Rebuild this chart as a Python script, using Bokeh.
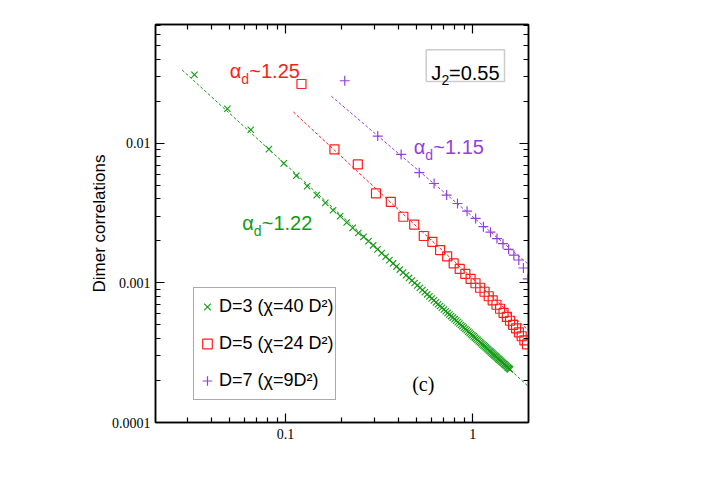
import math
from bokeh.plotting import figure
from bokeh.models import (Range1d, FixedTicker, CustomJSTickFormatter, LogAxis,
                          Legend, LegendItem, Label, BoxAnnotation)
from bokeh.embed import file_html
from bokeh.resources import INLINE

# ---------------- data ----------------
green_r = [2, 3, 4, 5, 6, 7, 8, 9, 10, 11, 12, 13, 14, 15, 16, 17, 18, 19, 20, 21,
           22, 23, 24, 25, 26, 27, 28, 29, 30, 31, 32, 33, 34, 35, 36, 37, 38, 39, 40, 41,
           42, 43, 44, 45, 46, 47, 48, 49, 50, 51, 52, 53, 54, 55, 56, 57, 58, 59, 60, 61,
           62, 63, 64, 65, 66, 67, 68, 69, 70, 71, 72, 73, 74, 75, 76, 77, 78, 79, 80, 81,
           82, 83, 84, 85, 86, 87, 88, 89, 90, 91, 92, 93, 94, 95, 96, 97]
green_xi = 61.35
green_y = [0.03105, 0.01771, 0.01252, 0.0091, 0.00719, 0.00586, 0.00494, 0.00426, 0.00375, 0.00332,
           0.00301, 0.00271, 0.00248, 0.00228, 0.00214, 0.00199, 0.00186, 0.00174, 0.001635, 0.00154,
           0.001457, 0.00138, 0.00131, 0.001247, 0.001189, 0.001136, 0.001086, 0.001041, 0.000999, 0.00096,
           0.000924, 0.00089, 0.000858, 0.000829, 0.000801, 0.000774, 0.00075, 0.000726, 0.000704, 0.000684,
           0.000664, 0.000645, 0.000627, 0.00061, 0.000594, 0.000579, 0.000564, 0.00055, 0.000537, 0.000524,
           0.000512, 0.0005, 0.000489, 0.000478, 0.000468, 0.000458, 0.000448, 0.000439, 0.00043, 0.000422,
           0.000414, 0.000406, 0.000398, 0.000391, 0.000383, 0.000376, 0.00037, 0.000363, 0.000357, 0.000351,
           0.000345, 0.000339, 0.000334, 0.000328, 0.000323, 0.000318, 0.000313, 0.000308, 0.000303, 0.000299,
           0.000295, 0.00029, 0.000286, 0.000282, 0.000278, 0.000274, 0.00027, 0.000267, 0.000263, 0.00026,
           0.000256, 0.000253, 0.000249, 0.000246, 0.000243, 0.00024]

red_r = [2, 3, 4, 5, 6, 7, 8, 9, 10, 11, 12, 13, 14, 15, 16, 17, 18, 19, 20, 21,
         22, 23, 24, 25, 26, 27, 28, 29, 30, 31, 32]
red_xi = 16.45
red_y = [0.02663, 0.00906, 0.00707, 0.00438, 0.00381, 0.00298, 0.00262, 0.00217, 0.00197, 0.00172,
         0.00155, 0.00138, 0.00126, 0.00116, 0.00107, 0.000995, 0.000924, 0.000865, 0.000803, 0.000751,
         0.000698, 0.000653, 0.000611, 0.000572, 0.000536, 0.000501, 0.000473, 0.000443, 0.000415, 0.000388,
         0.000363]

purple_r = [2, 3, 4, 5, 6, 7, 8, 9, 10, 11, 12, 13, 14, 15, 16, 17, 18, 19]
purple_xi = 9.66
purple_y = [0.0281, 0.01128, 0.00834, 0.00617, 0.00516, 0.00426, 0.00371, 0.00327, 0.0029, 0.00253,
            0.00231, 0.00208, 0.00191, 0.00174, 0.00158, 0.00146, 0.00128, 0.00107]

# power-law fits (dashed lines): end points
green_fit_x = [0.028, 1.983]
green_fit_y = [0.0336, 0.000181]
red_fit_x = [0.11, 1.983]
red_fit_y = [0.0168, 0.000456]
purple_fit_x = [0.1754, 1.983]
purple_fit_y = [0.0218, 0.00136]

legend_labels = ["D=3 (\u03c7=40 D\u00b2)", "D=5 (\u03c7=24 D\u00b2)", "D=7 (\u03c7=9D\u00b2)"]
exponent_labels = ["~1.22", "~1.25", "~1.15"]
panel_label = "(c)"
j2_label = "=0.55"

x_ticks = [0.1, 1]
x_tick_labels = ["0.1", "1"]
x_minor = [0.03, 0.04, 0.05, 0.06, 0.07, 0.08, 0.09, 0.2, 0.3, 0.4, 0.5, 0.6, 0.7, 0.8, 0.9]
y_ticks = [0.0001, 0.001, 0.01]
y_tick_labels = ["0.0001", "0.001", "0.01"]
y_minor = [0.0002, 0.0003, 0.0004, 0.0005, 0.0006, 0.0007, 0.0008, 0.0009,
           0.002, 0.003, 0.004, 0.005, 0.006, 0.007, 0.008, 0.009,
           0.02, 0.03, 0.04, 0.05, 0.06, 0.07]

X_MIN, X_MAX = 0.0202, 1.983
Y_MIN, Y_MAX = 0.0001, 0.0711

GREEN = "#139a13"
RED = "#ff1c1c"
PURPLE = "#9440dd"

# ---------------- layout ----------------
OFF = 0
FL, FT, FW, FH = 155, 24, 373, 398
p = figure(x_axis_type="log", y_axis_type="log",
           x_range=Range1d(X_MIN, X_MAX), y_range=Range1d(Y_MIN, Y_MAX),
           frame_width=FW, frame_height=FH,
           min_border_left=FL, min_border_top=FT, min_border_right=161, min_border_bottom=60,
           output_backend="svg", toolbar_location=None)
p.grid.visible = False
p.outline_line_color = "black"
p.outline_line_width = 1.5
p.background_fill_color = "white"
p.border_fill_color = "white"


def px_x(X):
    f = (X - OFF - FL) / FW
    lo, hi = math.log10(X_MIN), math.log10(X_MAX)
    return 10 ** (lo + f * (hi - lo))


def px_y(Y):
    f = (Y - OFF - FT) / FH
    lo, hi = math.log10(Y_MIN), math.log10(Y_MAX)
    return 10 ** (hi - f * (hi - lo))


def fmt(tk, lb):
    return CustomJSTickFormatter(args=dict(tk=tk, lb=lb), code="""
        for (let i = 0; i < tk.length; i++) {
            if (Math.abs(Math.log10(tk[i]) - Math.log10(tick)) < 1e-6) return lb[i];
        }
        return '';
    """)


def style_axis(ax, show_labels):
    ax.axis_line_color = "black"
    ax.axis_line_width = 1.5
    ax.major_tick_in = 9
    ax.major_tick_out = 0
    ax.minor_tick_in = 5
    ax.minor_tick_out = 0
    ax.major_tick_line_width = 1.2
    ax.minor_tick_line_width = 1.2
    ax.major_tick_line_color = "black"
    ax.minor_tick_line_color = "black"
    ax.major_label_text_color = "black"
    ax.axis_label_text_color = "black"
    if not show_labels:
        ax.major_label_text_font_size = "1px"
        ax.major_label_standoff = 0


xt = FixedTicker(ticks=x_ticks, minor_ticks=x_minor)
yt = FixedTicker(ticks=y_ticks, minor_ticks=y_minor)

xa = p.xaxis[0]
xa.ticker = xt
xa.formatter = fmt(x_ticks, x_tick_labels)
style_axis(xa, True)
xa.major_label_text_font = "Liberation Serif"
xa.major_label_text_font_size = "14px"
xa.major_label_standoff = 6

ya = p.yaxis[0]
ya.ticker = yt
ya.formatter = fmt(y_ticks, y_tick_labels)
style_axis(ya, True)
ya.major_label_text_font = "Liberation Serif"
ya.major_label_text_font_size = "14px"
ya.major_label_standoff = 5
ya.axis_label = "Dimer correlations"
ya.axis_label_text_font = "Liberation Sans"
ya.axis_label_text_font_size = "17px"
ya.axis_label_text_font_style = "normal"
ya.axis_label_standoff = 0

top = LogAxis(ticker=FixedTicker(ticks=x_ticks, minor_ticks=x_minor),
              formatter=CustomJSTickFormatter(code="return '';"))
style_axis(top, False)
p.add_layout(top, "above")
right = LogAxis(ticker=FixedTicker(ticks=y_ticks, minor_ticks=y_minor),
                formatter=CustomJSTickFormatter(code="return '';"))
style_axis(right, False)
p.add_layout(right, "right")

# ---------------- glyphs ----------------
gx = [r / green_xi for r in green_r]
rx = [r / red_xi for r in red_r]
vx = [r / purple_xi for r in purple_r]

p.line(green_fit_x, green_fit_y, line_color=GREEN, line_width=1, line_dash="3 2")
p.line(red_fit_x, red_fit_y, line_color=RED, line_width=1, line_dash="3 2")
p.line(purple_fit_x, purple_fit_y, line_color=PURPLE, line_width=1, line_dash="3 2")

g_r = p.scatter(gx, green_y, marker="x", size=9, line_color=GREEN, line_width=1.1)
r_r = p.scatter(rx, red_y, marker="square", size=9, line_color=RED, fill_color=None, line_width=1.2)
v_r = p.scatter(vx, purple_y, marker="cross", size=10, line_color=PURPLE, line_width=1.2)

legend = Legend(items=[LegendItem(label=legend_labels[0], renderers=[g_r]),
                       LegendItem(label=legend_labels[1], renderers=[r_r]),
                       LegendItem(label=legend_labels[2], renderers=[v_r])],
                location=(38, 22), margin=0, padding=1, spacing=2,
                label_height=35, glyph_height=35, glyph_width=24, label_standoff=0,
                border_line_color="#555555", border_line_width=1.5,
                background_fill_color="white", background_fill_alpha=1,
                label_text_font="Liberation Sans", label_text_font_size="18px",
                label_text_color="black")
p.add_layout(legend)


def lab(text, X, Y, size, color, font="Liberation Sans"):
    p.add_layout(Label(x=px_x(X), y=px_y(Y), text=text, text_font=font,
                       text_font_size=size, text_color=color,
                       text_align="left", text_baseline="alphabetic"))


# exponent annotations
for (X, Y, col, txt) in [(229.3, 70, RED, exponent_labels[1]),
                         (413.3, 146.7, PURPLE, exponent_labels[2]),
                         (241.7, 222.7, GREEN, exponent_labels[0])]:
    lab("\u03b1", X, Y, "20px", col)
    lab("d", X + 11.5, Y + 8, "14px", col)
    lab(txt, X + 19.5, Y, "20px", col)

# J2 box
p.add_layout(BoxAnnotation(left=px_x(425.7), right=px_x(504), top=px_y(49.3), bottom=px_y(81),
                           fill_color=None, line_color="#555555", line_width=1.5))
lab("J", 430.7, 72, "20px", "black")
lab("2", 441, 79.5, "14px", "black")
lab(j2_label, 448.5, 72, "20px", "black")

# panel label
lab(panel_label, 411.7, 383, "20px", "black", "Liberation Serif")

# x axis label
lab("r / \u03be", 315.7, 456, "17px", "black")
lab("d", 345, 463.3, "12px", "black")
lab("(\u03c7)", 351.7, 456, "17px", "black")

open("out.html", "w").write(file_html(p, INLINE))
